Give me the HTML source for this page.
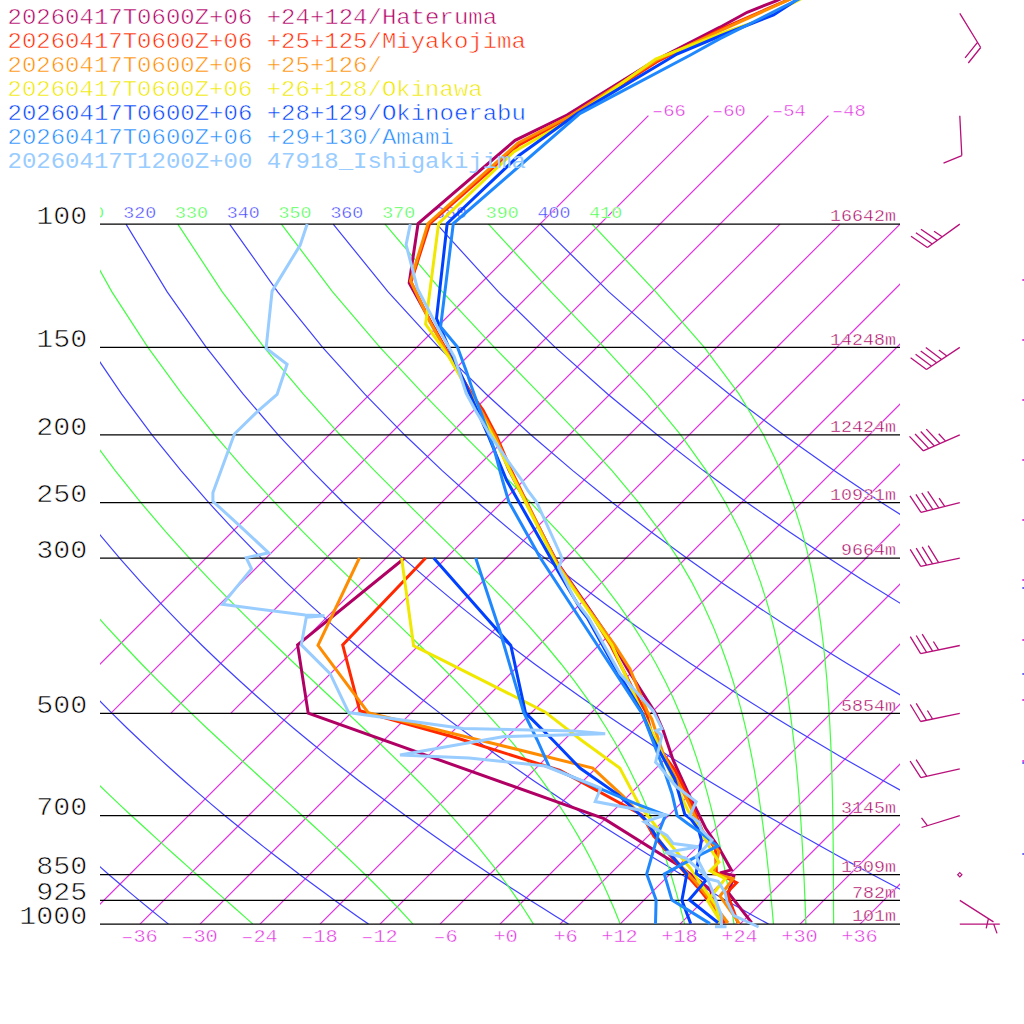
<!DOCTYPE html><html><head><meta charset="utf-8"><style>html,body{margin:0;padding:0;background:#fff;width:1024px;height:1024px;overflow:hidden}svg{display:block}</style></head><body><svg width="1024" height="1024" viewBox="0 0 1024 1024" font-family="Liberation Mono">
<rect width="1024" height="1024" fill="#fff"/>
<defs><clipPath id="tc"><rect x="100" y="-50" width="800" height="1000"/></clipPath><clipPath id="pc"><rect x="100" y="0" width="800" height="924.1"/></clipPath></defs>
<g clip-path="url(#pc)">
<path d="M50.7 713.4 L648.4 115.7" fill="none" stroke="#e030e0" stroke-width="1.15"/>
<path d="M110.7 713.4 L708.4 115.7" fill="none" stroke="#e030e0" stroke-width="1.15"/>
<path d="M170.7 713.4 L768.4 115.7" fill="none" stroke="#e030e0" stroke-width="1.15"/>
<path d="M230.7 713.4 L828.4 115.7" fill="none" stroke="#e030e0" stroke-width="1.15"/>
<path d="M80 924.1 L780 224.1" fill="none" stroke="#e030e0" stroke-width="1.15"/>
<path d="M140 924.1 L840 224.1" fill="none" stroke="#e030e0" stroke-width="1.15"/>
<path d="M200 924.1 L900 224.1" fill="none" stroke="#e030e0" stroke-width="1.15"/>
<path d="M260 924.1 L960 224.1" fill="none" stroke="#e030e0" stroke-width="1.15"/>
<path d="M320 924.1 L1020 224.1" fill="none" stroke="#e030e0" stroke-width="1.15"/>
<path d="M380 924.1 L1080 224.1" fill="none" stroke="#e030e0" stroke-width="1.15"/>
<path d="M440 924.1 L1140 224.1" fill="none" stroke="#e030e0" stroke-width="1.15"/>
<path d="M500 924.1 L1200 224.1" fill="none" stroke="#e030e0" stroke-width="1.15"/>
<path d="M560 924.1 L1260 224.1" fill="none" stroke="#e030e0" stroke-width="1.15"/>
<path d="M620 924.1 L1320 224.1" fill="none" stroke="#e030e0" stroke-width="1.15"/>
<path d="M680 924.1 L1380 224.1" fill="none" stroke="#e030e0" stroke-width="1.15"/>
<path d="M740 924.1 L1440 224.1" fill="none" stroke="#e030e0" stroke-width="1.15"/>
<path d="M800 924.1 L1500 224.1" fill="none" stroke="#e030e0" stroke-width="1.15"/>
<path d="M860 924.1 L1560 224.1" fill="none" stroke="#e030e0" stroke-width="1.15"/>
<path d="M920 924.1 L1620 224.1" fill="none" stroke="#e030e0" stroke-width="1.15"/>
<path d="M980 924.1 L1680 224.1" fill="none" stroke="#e030e0" stroke-width="1.15"/>
<path d="M1040 924.1 L1740 224.1" fill="none" stroke="#e030e0" stroke-width="1.15"/>
<path d="M1100 924.1 L1800 224.1" fill="none" stroke="#e030e0" stroke-width="1.15"/>
<path d="M-288.4 224.1 L-274.4 291.9 L-259 347.4 L-243 394.2 L-226.9 434.8 L-210.8 470.6 L-195 502.7 L-179.3 531.6 L-164 558.1 L-149 582.4 L-134.3 604.9 L-119.9 625.9 L-105.7 645.5 L-91.9 664 L-78.3 681.3 L-65 697.8 L-52 713.4 L-39.2 728.2 L-26.6 742.3 L-14.2 755.9 L-2.1 768.8 L9.8 781.2 L21.5 793.1 L33.1 804.6 L44.4 815.7 L55.6 826.3 L66.6 836.6 L77.4 846.6 L88.1 856.3 L98.6 865.6 L109 874.7 L119.3 883.5 L129.4 892.1 L139.3 900.4 L149.2 908.5 L158.9 916.4 L168.5 924.1" fill="none" stroke="#4040ff" stroke-width="1.2"/>
<path d="M-184.8 224.1 L-164 291.9 L-142.7 347.4 L-121.4 394.2 L-100.6 434.8 L-80.2 470.6 L-60.4 502.7 L-41 531.6 L-22.2 558.1 L-3.9 582.4 L13.9 604.9 L31.3 625.9 L48.2 645.5 L64.7 664 L80.9 681.3 L96.7 697.8 L112.1 713.4 L127.2 728.2 L142 742.3 L156.5 755.9 L170.7 768.8 L184.7 781.2 L198.4 793.1 L211.8 804.6 L225 815.7 L238 826.3 L250.8 836.6 L263.4 846.6 L275.8 856.3 L287.9 865.6 L299.9 874.7 L311.8 883.5 L323.4 892.1 L334.9 900.4 L346.3 908.5 L357.5 916.4 L368.5 924.1" fill="none" stroke="#4040ff" stroke-width="1.2"/>
<path d="M-81.2 224.1 L-53.6 291.9 L-26.4 347.4 L0.1 394.2 L25.7 434.8 L50.4 470.6 L74.2 502.7 L97.3 531.6 L119.6 558.1 L141.1 582.4 L162.1 604.9 L182.4 625.9 L202.1 645.5 L221.4 664 L240.1 681.3 L258.4 697.8 L276.2 713.4 L293.6 728.2 L310.6 742.3 L327.3 755.9 L343.6 768.8 L359.5 781.2 L375.2 793.1 L390.6 804.6 L405.7 815.7 L420.5 826.3 L435 836.6 L449.3 846.6 L463.4 856.3 L477.2 865.6 L490.9 874.7 L504.3 883.5 L517.5 892.1 L530.5 900.4 L543.4 908.5 L556 916.4 L568.5 924.1" fill="none" stroke="#4040ff" stroke-width="1.2"/>
<path d="M22.4 224.1 L56.8 291.9 L90 347.4 L121.7 394.2 L152 434.8 L181 470.6 L208.8 502.7 L235.6 531.6 L261.3 558.1 L286.2 582.4 L310.2 604.9 L333.5 625.9 L356.1 645.5 L378 664 L399.3 681.3 L420 697.8 L440.2 713.4 L460 728.2 L479.2 742.3 L498 755.9 L516.4 768.8 L534.4 781.2 L552.1 793.1 L569.3 804.6 L586.3 815.7 L602.9 826.3 L619.2 836.6 L635.3 846.6 L651 856.3 L666.5 865.6 L681.8 874.7 L696.8 883.5 L711.6 892.1 L726.1 900.4 L740.5 908.5 L754.6 916.4 L768.5 924.1" fill="none" stroke="#4040ff" stroke-width="1.2"/>
<path d="M126 224.1 L167.2 291.9 L206.3 347.4 L243.2 394.2 L278.2 434.8 L311.6 470.6 L343.4 502.7 L373.9 531.6 L403.1 558.1 L431.3 582.4 L458.4 604.9 L484.6 625.9 L510 645.5 L534.6 664 L558.5 681.3 L581.7 697.8 L604.3 713.4 L626.3 728.2 L647.8 742.3 L668.8 755.9 L689.3 768.8 L709.3 781.2 L728.9 793.1 L748.1 804.6 L766.9 815.7 L785.4 826.3 L803.5 836.6 L821.2 846.6 L838.7 856.3 L855.9 865.6 L872.7 874.7 L889.3 883.5 L905.6 892.1 L921.7 900.4 L937.5 908.5 L953.1 916.4 L968.5 924.1" fill="none" stroke="#4040ff" stroke-width="1.2"/>
<path d="M229.6 224.1 L277.7 291.9 L322.6 347.4 L364.8 394.2 L404.5 434.8 L442.2 470.6 L478 502.7 L512.2 531.6 L544.9 558.1 L576.4 582.4 L606.6 604.9 L635.8 625.9 L664 645.5 L691.2 664 L717.7 681.3 L743.4 697.8 L768.4 713.4 L792.7 728.2 L816.4 742.3 L839.5 755.9 L862.1 768.8 L884.2 781.2 L905.7 793.1 L926.8 804.6 L947.5 815.7 L967.8 826.3 L987.7 836.6 L1007.2 846.6 L1026.3 856.3 L1045.2 865.6 L1063.6 874.7 L1081.8 883.5 L1099.7 892.1 L1117.3 900.4 L1134.6 908.5 L1151.7 916.4 L1168.5 924.1" fill="none" stroke="#4040ff" stroke-width="1.2"/>
<path d="M333.2 224.1 L388.1 291.9 L438.9 347.4 L486.3 394.2 L530.8 434.8 L572.8 470.6 L612.6 502.7 L650.5 531.6 L686.7 558.1 L721.4 582.4 L754.8 604.9 L786.9 625.9 L817.9 645.5 L847.9 664 L876.9 681.3 L905.1 697.8 L932.5 713.4 L959.1 728.2 L985 742.3 L1010.3 755.9 L1034.9 768.8 L1059 781.2 L1082.6 793.1 L1105.6 804.6 L1128.2 815.7 L1150.2 826.3 L1171.9 836.6 L1193.1 846.6 L1214 856.3 L1234.5 865.6 L1254.6 874.7 L1274.3 883.5 L1293.8 892.1 L1312.9 900.4 L1331.7 908.5 L1350.3 916.4 L1368.5 924.1" fill="none" stroke="#4040ff" stroke-width="1.2"/>
<path d="M436.8 224.1 L498.5 291.9 L555.2 347.4 L607.9 394.2 L657.1 434.8 L703.4 470.6 L747.2 502.7 L788.8 531.6 L828.5 558.1 L866.5 582.4 L902.9 604.9 L938 625.9 L971.8 645.5 L1004.5 664 L1036.1 681.3 L1066.8 697.8 L1096.5 713.4 L1125.4 728.2 L1153.6 742.3 L1181 755.9 L1207.8 768.8 L1233.9 781.2 L1259.4 793.1 L1284.4 804.6 L1308.8 815.7 L1332.7 826.3 L1356.1 836.6 L1379.1 846.6 L1401.6 856.3 L1423.8 865.6 L1445.5 874.7 L1466.9 883.5 L1487.8 892.1 L1508.5 900.4 L1528.8 908.5 L1548.8 916.4 L1568.5 924.1" fill="none" stroke="#4040ff" stroke-width="1.2"/>
<path d="M540.3 224.1 L608.9 291.9 L671.5 347.4 L729.4 394.2 L783.4 434.8 L834 470.6 L881.8 502.7 L927.1 531.6 L970.3 558.1 L1011.6 582.4 L1051.1 604.9 L1089.1 625.9 L1125.8 645.5 L1161.1 664 L1195.3 681.3 L1228.4 697.8 L1260.6 713.4 L1291.8 728.2 L1322.2 742.3 L1351.8 755.9 L1380.6 768.8 L1408.8 781.2 L1436.2 793.1 L1463.1 804.6 L1489.4 815.7 L1515.1 826.3 L1540.3 836.6 L1565 846.6 L1589.3 856.3 L1613.1 865.6 L1636.4 874.7 L1659.4 883.5 L1681.9 892.1 L1704.1 900.4 L1725.9 908.5 L1747.4 916.4 L1768.5 924.1" fill="none" stroke="#4040ff" stroke-width="1.2"/>
<path d="M-236.6 224.1 L-219.3 291.9 L-201 347.4 L-182.5 394.2 L-164 434.8 L-145.9 470.6 L-128.1 502.7 L-110.7 531.6 L-93.7 558.1 L-77.1 582.4 L-60.9 604.9 L-45 625.9 L-29.6 645.5 L-14.4 664 L0.3 681.3 L14.8 697.8 L28.9 713.4 L42.7 728.2 L56.3 742.3 L69.5 755.9 L82.5 768.8 L95.1 781.2 L107.5 793.1 L119.6 804.6 L131.5 815.7 L143.1 826.3 L154.4 836.6 L165.4 846.6 L176.2 856.3 L186.7 865.6 L196.9 874.7 L206.9 883.5 L216.6 892.1 L226.1 900.4 L235.3 908.5 L244.2 916.4 L252.9 924.1" fill="none" stroke="#40ff40" stroke-width="1.2"/>
<path d="M-133 224.1 L-108.9 291.9 L-84.7 347.4 L-60.9 394.2 L-37.8 434.8 L-15.3 470.6 L6.4 502.7 L27.6 531.6 L48 558.1 L67.9 582.4 L87.1 604.9 L105.8 625.9 L124 645.5 L141.6 664 L158.7 681.3 L175.3 697.8 L191.4 713.4 L207 728.2 L222.1 742.3 L236.8 755.9 L250.9 768.8 L264.5 781.2 L277.6 793.1 L290.3 804.6 L302.4 815.7 L314 826.3 L325.2 836.6 L335.9 846.6 L346.1 856.3 L355.9 865.6 L365.3 874.7 L374.2 883.5 L382.7 892.1 L390.8 900.4 L398.6 908.5 L405.9 916.4 L413 924.1" fill="none" stroke="#40ff40" stroke-width="1.2"/>
<path d="M-29.4 224.1 L1.5 291.9 L31.6 347.4 L60.6 394.2 L88.4 434.8 L115.2 470.6 L140.9 502.7 L165.6 531.6 L189.4 558.1 L212.3 582.4 L234.3 604.9 L255.4 625.9 L275.6 645.5 L295 664 L313.5 681.3 L331.1 697.8 L347.8 713.4 L363.6 728.2 L378.5 742.3 L392.6 755.9 L405.8 768.8 L418.3 781.2 L429.9 793.1 L440.8 804.6 L451 815.7 L460.5 826.3 L469.4 836.6 L477.8 846.6 L485.6 856.3 L493 865.6 L499.8 874.7 L506.3 883.5 L512.4 892.1 L518.1 900.4 L523.5 908.5 L528.6 916.4 L533.4 924.1" fill="none" stroke="#40ff40" stroke-width="1.2"/>
<path d="M74.2 224.1 L111.9 291.9 L147.9 347.4 L182.1 394.2 L214.6 434.8 L245.5 470.6 L274.9 502.7 L302.8 531.6 L329.2 558.1 L354.2 582.4 L377.6 604.9 L399.6 625.9 L419.9 645.5 L438.8 664 L456.1 681.3 L472.1 697.8 L486.6 713.4 L499.9 728.2 L512.1 742.3 L523.2 755.9 L533.3 768.8 L542.5 781.2 L551 793.1 L558.7 804.6 L565.9 815.7 L572.4 826.3 L578.5 836.6 L584.1 846.6 L589.3 856.3 L594.1 865.6 L598.7 874.7 L602.9 883.5 L606.8 892.1 L610.5 900.4 L614 908.5 L617.2 916.4 L620.3 924.1" fill="none" stroke="#40ff40" stroke-width="1.2"/>
<path d="M177.8 224.1 L222.3 291.9 L264.1 347.4 L303.4 394.2 L340.1 434.8 L374.5 470.6 L406.5 502.7 L436 531.6 L463 558.1 L487.4 582.4 L509.2 604.9 L528.7 625.9 L545.9 645.5 L561.2 664 L574.7 681.3 L586.6 697.8 L597.1 713.4 L606.5 728.2 L614.9 742.3 L622.4 755.9 L629.1 768.8 L635.2 781.2 L640.7 793.1 L645.7 804.6 L650.3 815.7 L654.4 826.3 L658.3 836.6 L661.8 846.6 L665.1 856.3 L668.1 865.6 L671 874.7 L673.6 883.5 L676.1 892.1 L678.4 900.4 L680.6 908.5 L682.6 916.4 L684.6 924.1" fill="none" stroke="#40ff40" stroke-width="1.2"/>
<path d="M281.4 224.1 L332.6 291.9 L380 347.4 L423.6 394.2 L463.3 434.8 L499.1 470.6 L530.7 502.7 L558.1 531.6 L581.7 558.1 L601.8 582.4 L618.8 604.9 L633.3 625.9 L645.6 645.5 L656.1 664 L665.2 681.3 L673.1 697.8 L679.9 713.4 L685.9 728.2 L691.2 742.3 L695.9 755.9 L700.1 768.8 L703.9 781.2 L707.3 793.1 L710.3 804.6 L713.1 815.7 L715.7 826.3 L718 836.6 L720.2 846.6 L722.2 856.3 L724 865.6 L725.7 874.7 L727.3 883.5 L728.8 892.1 L730.2 900.4 L731.6 908.5 L732.8 916.4 L734 924.1" fill="none" stroke="#40ff40" stroke-width="1.2"/>
<path d="M385 224.1 L442.5 291.9 L494.3 347.4 L540 394.2 L579.3 434.8 L612 470.6 L638.7 502.7 L660.3 531.6 L677.8 558.1 L691.9 582.4 L703.4 604.9 L712.9 625.9 L720.8 645.5 L727.5 664 L733.1 681.3 L737.9 697.8 L742.1 713.4 L745.7 728.2 L748.8 742.3 L751.6 755.9 L754.1 768.8 L756.3 781.2 L758.3 793.1 L760 804.6 L761.6 815.7 L763.1 826.3 L764.4 836.6 L765.7 846.6 L766.8 856.3 L767.8 865.6 L768.8 874.7 L769.7 883.5 L770.5 892.1 L771.3 900.4 L772.1 908.5 L772.8 916.4 L773.4 924.1" fill="none" stroke="#40ff40" stroke-width="1.2"/>
<path d="M488.5 224.1 L551.1 291.9 L604.2 347.4 L647.2 394.2 L680.7 434.8 L706.2 470.6 L725.5 502.7 L740.2 531.6 L751.6 558.1 L760.6 582.4 L767.7 604.9 L773.4 625.9 L778.1 645.5 L782 664 L785.2 681.3 L788 697.8 L790.3 713.4 L792.2 728.2 L793.9 742.3 L795.4 755.9 L796.7 768.8 L797.8 781.2 L798.8 793.1 L799.7 804.6 L800.5 815.7 L801.2 826.3 L801.8 836.6 L802.4 846.6 L802.9 856.3 L803.4 865.6 L803.9 874.7 L804.3 883.5 L804.6 892.1 L805 900.4 L805.3 908.5 L805.6 916.4 L805.9 924.1" fill="none" stroke="#40ff40" stroke-width="1.2"/>
<path d="M592.1 224.1 L655.8 291.9 L704.3 347.4 L739.1 394.2 L763.5 434.8 L780.7 470.6 L793 502.7 L802.1 531.6 L808.9 558.1 L814 582.4 L818 604.9 L821.1 625.9 L823.5 645.5 L825.4 664 L827 681.3 L828.2 697.8 L829.2 713.4 L830 728.2 L830.7 742.3 L831.3 755.9 L831.7 768.8 L832.1 781.2 L832.4 793.1 L832.6 804.6 L832.8 815.7 L833 826.3 L833.1 836.6 L833.2 846.6 L833.3 856.3 L833.3 865.6 L833.4 874.7 L833.4 883.5 L833.5 892.1 L833.5 900.4 L833.5 908.5 L833.6 916.4 L833.6 924.1" fill="none" stroke="#40ff40" stroke-width="1.2"/>
<text x="19.6" y="217.9" font-size="16.69" textLength="32.94" lengthAdjust="spacingAndGlyphs" fill="#4040ff" stroke="#fff" stroke-width="0.41">300</text>
<text x="71.4" y="217.9" font-size="16.69" textLength="32.94" lengthAdjust="spacingAndGlyphs" fill="#40ff40" stroke="#fff" stroke-width="0.41">310</text>
<text x="123.2" y="217.9" font-size="16.69" textLength="32.94" lengthAdjust="spacingAndGlyphs" fill="#4040ff" stroke="#fff" stroke-width="0.41">320</text>
<text x="175" y="217.9" font-size="16.69" textLength="32.94" lengthAdjust="spacingAndGlyphs" fill="#40ff40" stroke="#fff" stroke-width="0.41">330</text>
<text x="226.8" y="217.9" font-size="16.69" textLength="32.94" lengthAdjust="spacingAndGlyphs" fill="#4040ff" stroke="#fff" stroke-width="0.41">340</text>
<text x="278.6" y="217.9" font-size="16.69" textLength="32.94" lengthAdjust="spacingAndGlyphs" fill="#40ff40" stroke="#fff" stroke-width="0.41">350</text>
<text x="330.4" y="217.9" font-size="16.69" textLength="32.94" lengthAdjust="spacingAndGlyphs" fill="#4040ff" stroke="#fff" stroke-width="0.41">360</text>
<text x="382.2" y="217.9" font-size="16.69" textLength="32.94" lengthAdjust="spacingAndGlyphs" fill="#40ff40" stroke="#fff" stroke-width="0.41">370</text>
<text x="434" y="217.9" font-size="16.69" textLength="32.94" lengthAdjust="spacingAndGlyphs" fill="#4040ff" stroke="#fff" stroke-width="0.41">380</text>
<text x="485.7" y="217.9" font-size="16.69" textLength="32.94" lengthAdjust="spacingAndGlyphs" fill="#40ff40" stroke="#fff" stroke-width="0.41">390</text>
<text x="537.5" y="217.9" font-size="16.69" textLength="32.94" lengthAdjust="spacingAndGlyphs" fill="#4040ff" stroke="#fff" stroke-width="0.41">400</text>
<text x="589.3" y="217.9" font-size="16.69" textLength="32.94" lengthAdjust="spacingAndGlyphs" fill="#40ff40" stroke="#fff" stroke-width="0.41">410</text>
</g>
<text x="652" y="115.9" font-size="17.15" textLength="33.84" lengthAdjust="spacingAndGlyphs" fill="#e030e0" stroke="#fff" stroke-width="0.42">–66</text>
<text x="712" y="115.9" font-size="17.15" textLength="33.84" lengthAdjust="spacingAndGlyphs" fill="#e030e0" stroke="#fff" stroke-width="0.42">–60</text>
<text x="772" y="115.9" font-size="17.15" textLength="33.84" lengthAdjust="spacingAndGlyphs" fill="#e030e0" stroke="#fff" stroke-width="0.42">–54</text>
<text x="832" y="115.9" font-size="17.15" textLength="33.84" lengthAdjust="spacingAndGlyphs" fill="#e030e0" stroke="#fff" stroke-width="0.42">–48</text>
<line x1="100" x2="900" y1="224.10" y2="224.10" stroke="#000" stroke-width="1.3"/>
<text x="87.3" y="223.8" font-size="25.81" textLength="50.94" lengthAdjust="spacingAndGlyphs" fill="#000" stroke="#fff" stroke-width="0.64" text-anchor="end">100</text>
<line x1="100" x2="900" y1="347.36" y2="347.36" stroke="#000" stroke-width="1.3"/>
<text x="87.3" y="347.1" font-size="25.81" textLength="50.94" lengthAdjust="spacingAndGlyphs" fill="#000" stroke="#fff" stroke-width="0.64" text-anchor="end">150</text>
<line x1="100" x2="900" y1="434.82" y2="434.82" stroke="#000" stroke-width="1.3"/>
<text x="87.3" y="434.5" font-size="25.81" textLength="50.94" lengthAdjust="spacingAndGlyphs" fill="#000" stroke="#fff" stroke-width="0.64" text-anchor="end">200</text>
<line x1="100" x2="900" y1="502.65" y2="502.65" stroke="#000" stroke-width="1.3"/>
<text x="87.3" y="502.4" font-size="25.81" textLength="50.94" lengthAdjust="spacingAndGlyphs" fill="#000" stroke="#fff" stroke-width="0.64" text-anchor="end">250</text>
<line x1="100" x2="900" y1="558.08" y2="558.08" stroke="#000" stroke-width="1.3"/>
<text x="87.3" y="557.8" font-size="25.81" textLength="50.94" lengthAdjust="spacingAndGlyphs" fill="#000" stroke="#fff" stroke-width="0.64" text-anchor="end">300</text>
<line x1="100" x2="900" y1="713.37" y2="713.37" stroke="#000" stroke-width="1.3"/>
<text x="87.3" y="713.1" font-size="25.81" textLength="50.94" lengthAdjust="spacingAndGlyphs" fill="#000" stroke="#fff" stroke-width="0.64" text-anchor="end">500</text>
<line x1="100" x2="900" y1="815.66" y2="815.66" stroke="#000" stroke-width="1.3"/>
<text x="87.3" y="815.4" font-size="25.81" textLength="50.94" lengthAdjust="spacingAndGlyphs" fill="#000" stroke="#fff" stroke-width="0.64" text-anchor="end">700</text>
<line x1="100" x2="900" y1="874.68" y2="874.68" stroke="#000" stroke-width="1.3"/>
<text x="87.3" y="874.4" font-size="25.81" textLength="50.94" lengthAdjust="spacingAndGlyphs" fill="#000" stroke="#fff" stroke-width="0.64" text-anchor="end">850</text>
<line x1="100" x2="900" y1="900.39" y2="900.39" stroke="#000" stroke-width="1.3"/>
<text x="87.3" y="900.1" font-size="25.81" textLength="50.94" lengthAdjust="spacingAndGlyphs" fill="#000" stroke="#fff" stroke-width="0.64" text-anchor="end">925</text>
<line x1="100" x2="900" y1="924.09" y2="924.09" stroke="#000" stroke-width="1.3"/>
<text x="87.3" y="923.8" font-size="25.81" textLength="67.92" lengthAdjust="spacingAndGlyphs" fill="#000" stroke="#fff" stroke-width="0.64" text-anchor="end">1000</text>
<text x="896" y="221.4" font-size="16.69" textLength="65.88" lengthAdjust="spacingAndGlyphs" fill="#a8005e" stroke="#fff" stroke-width="0.41" text-anchor="end">16642m</text>
<text x="896" y="344.7" font-size="16.69" textLength="65.88" lengthAdjust="spacingAndGlyphs" fill="#a8005e" stroke="#fff" stroke-width="0.41" text-anchor="end">14248m</text>
<text x="896" y="432.1" font-size="16.69" textLength="65.88" lengthAdjust="spacingAndGlyphs" fill="#a8005e" stroke="#fff" stroke-width="0.41" text-anchor="end">12424m</text>
<text x="896" y="500" font-size="16.69" textLength="65.88" lengthAdjust="spacingAndGlyphs" fill="#a8005e" stroke="#fff" stroke-width="0.41" text-anchor="end">10931m</text>
<text x="896" y="555.4" font-size="16.69" textLength="54.90" lengthAdjust="spacingAndGlyphs" fill="#a8005e" stroke="#fff" stroke-width="0.41" text-anchor="end">9664m</text>
<text x="896" y="710.7" font-size="16.69" textLength="54.90" lengthAdjust="spacingAndGlyphs" fill="#a8005e" stroke="#fff" stroke-width="0.41" text-anchor="end">5854m</text>
<text x="896" y="813" font-size="16.69" textLength="54.90" lengthAdjust="spacingAndGlyphs" fill="#a8005e" stroke="#fff" stroke-width="0.41" text-anchor="end">3145m</text>
<text x="896" y="872" font-size="16.69" textLength="54.90" lengthAdjust="spacingAndGlyphs" fill="#a8005e" stroke="#fff" stroke-width="0.41" text-anchor="end">1509m</text>
<text x="896" y="897.7" font-size="16.69" textLength="43.92" lengthAdjust="spacingAndGlyphs" fill="#a8005e" stroke="#fff" stroke-width="0.41" text-anchor="end">782m</text>
<text x="896" y="921.4" font-size="16.69" textLength="43.92" lengthAdjust="spacingAndGlyphs" fill="#a8005e" stroke="#fff" stroke-width="0.41" text-anchor="end">101m</text>
<text x="157.8" y="942.3" font-size="18.51" textLength="36.54" lengthAdjust="spacingAndGlyphs" fill="#e030e0" stroke="#fff" stroke-width="0.46" text-anchor="end">–36</text>
<text x="217.8" y="942.3" font-size="18.51" textLength="36.54" lengthAdjust="spacingAndGlyphs" fill="#e030e0" stroke="#fff" stroke-width="0.46" text-anchor="end">–30</text>
<text x="277.8" y="942.3" font-size="18.51" textLength="36.54" lengthAdjust="spacingAndGlyphs" fill="#e030e0" stroke="#fff" stroke-width="0.46" text-anchor="end">–24</text>
<text x="337.8" y="942.3" font-size="18.51" textLength="36.54" lengthAdjust="spacingAndGlyphs" fill="#e030e0" stroke="#fff" stroke-width="0.46" text-anchor="end">–18</text>
<text x="397.8" y="942.3" font-size="18.51" textLength="36.54" lengthAdjust="spacingAndGlyphs" fill="#e030e0" stroke="#fff" stroke-width="0.46" text-anchor="end">–12</text>
<text x="457.8" y="942.3" font-size="18.51" textLength="24.36" lengthAdjust="spacingAndGlyphs" fill="#e030e0" stroke="#fff" stroke-width="0.46" text-anchor="end">–6</text>
<text x="517.8" y="942.3" font-size="18.51" textLength="24.36" lengthAdjust="spacingAndGlyphs" fill="#e030e0" stroke="#fff" stroke-width="0.46" text-anchor="end">+0</text>
<text x="577.8" y="942.3" font-size="18.51" textLength="24.36" lengthAdjust="spacingAndGlyphs" fill="#e030e0" stroke="#fff" stroke-width="0.46" text-anchor="end">+6</text>
<text x="637.8" y="942.3" font-size="18.51" textLength="36.54" lengthAdjust="spacingAndGlyphs" fill="#e030e0" stroke="#fff" stroke-width="0.46" text-anchor="end">+12</text>
<text x="697.8" y="942.3" font-size="18.51" textLength="36.54" lengthAdjust="spacingAndGlyphs" fill="#e030e0" stroke="#fff" stroke-width="0.46" text-anchor="end">+18</text>
<text x="757.8" y="942.3" font-size="18.51" textLength="36.54" lengthAdjust="spacingAndGlyphs" fill="#e030e0" stroke="#fff" stroke-width="0.46" text-anchor="end">+24</text>
<text x="817.8" y="942.3" font-size="18.51" textLength="36.54" lengthAdjust="spacingAndGlyphs" fill="#e030e0" stroke="#fff" stroke-width="0.46" text-anchor="end">+30</text>
<text x="877.8" y="942.3" font-size="18.51" textLength="36.54" lengthAdjust="spacingAndGlyphs" fill="#e030e0" stroke="#fff" stroke-width="0.46" text-anchor="end">+36</text>
<g clip-path="url(#tc)" stroke-linejoin="miter" stroke-miterlimit="4">
<path d="M800 -10 L776.2 0.9 L747.2 12.3 L720 27.2 L655 60.5 L567 115 L515.1 140.3 L418.1 223.5 L409.2 282.9 L429.7 320 L450 356.8 L470 392 L484 418 L497 441 L509 470 L557 562 L590 610 L614 645 L627 668.3 L655.7 713.4 L663.2 730.5 L673 759.7 L687.5 791.4 L705.5 828 L719 848 L731.3 869.9 L719.9 873 L734 875.5 L728.5 893 L751.6 922.7" fill="none" stroke="#b00064" stroke-width="3"/>
<path d="M404.7 558 L297.6 644.9 L308.2 713.2 L604 818.7 L677.2 864.5 L699 880.5 L710 889.3 L716 905 L724 923" fill="none" stroke="#b00064" stroke-width="3"/>
<path d="M812 -10 L790 -1 L720 29.5 L656.5 62 L571 117 L519 145 L429.5 224 L411 282 L430 321 L450 357 L471 393 L483 410 L496 435 L511 470 L557 564 L589 610 L611 646 L635.4 694 L646 712 L651 731 L660 750 L675 770 L690 800 L702 830 L715.5 848.8 L716.4 872.5 L736.6 882.7 L727 892.8 L738 923" fill="none" stroke="#ff2800" stroke-width="3"/>
<path d="M425.7 558 L342.7 644.9 L359.8 710.8 L457 738 L560 770.5 L642 815 L653.8 836.1 L686.6 874.7 L700 890 L712 905 L725 923" fill="none" stroke="#ff2800" stroke-width="3"/>
<path d="M810 -10 L788.5 0 L720 30.8 L657 60 L570 116 L518 143 L428 223.5 L410.5 281 L430 322 L449.5 357 L470 393 L483 414 L496 438 L510 470 L557 563 L589 610 L614.7 645.1 L630 669 L647.5 712 L651.7 719 L663 753.3 L688 801.6 L694 814.3 L701.5 830 L719 851.4 L713.7 873.4 L733.1 878.7 L720 896 L739.3 923.5" fill="none" stroke="#ff8c00" stroke-width="3"/>
<path d="M359.4 558 L318 645.4 L368.2 712.6 L592.8 768.1 L623.3 796.3 L644.4 819.7 L665 848 L698 885 L712 902 L728 923" fill="none" stroke="#ff8c00" stroke-width="3"/>
<path d="M815 -9 L797 1 L753.4 22.5 L720 34 L655.6 59 L573 118 L514 151.7 L438.6 223.5 L425.6 324 L448.8 356.8 L457.3 371.4 L470 395 L484 420 L497 444 L509.4 470 L556.5 564.3 L588 610 L611.9 645.1 L642 712 L656 740 L668 768 L686 806.7 L688.6 811.7 L700 830 L711 849.7 L719 862 L710.2 870.8 L725.2 878.7 L707.6 900.7 L720.8 922" fill="none" stroke="#f0e800" stroke-width="3"/>
<path d="M401.6 558 L413.6 645.8 L440 658.8 L545 711.9 L581.1 740 L619.8 768.1 L639.7 805.6 L665.5 838.4 L690 868 L705 890 L716 905 L720 923" fill="none" stroke="#f0e800" stroke-width="3"/>
<path d="M812 -10 L796.5 0 L773.6 14.9 L720 36 L677 54 L577.3 113.6 L518.9 155.5 L447.2 223.5 L436.5 318.5 L452 355 L469.6 393.3 L488 435 L506.5 480 L556.5 568.4 L581.1 610 L587.3 617.8 L613 664 L642 712.5 L652 737 L660.6 753.3 L674.6 778.7 L684.8 814.3 L691.1 819.4 L698.7 830 L701.4 840 L696.2 873.4 L705.8 880.5 L689.2 899.8 L718.1 922.7" fill="none" stroke="#0040ff" stroke-width="3"/>
<path d="M433.7 558 L510.8 645.5 L525.5 712.9 L552.8 740 L579.9 768.1 L618.6 795.1 L645.5 819.7 L657.3 838.4 L686.8 874 L681.9 900.3 L690.7 923.8" fill="none" stroke="#0040ff" stroke-width="3"/>
<path d="M815 -9 L797 0 L753.4 22 L720 38.7 L690 55.2 L579.8 113.6 L453.3 223.5 L440.6 326.7 L457.3 346.8 L466.9 372.8 L471 385.1 L477.8 404.2 L487.4 430.2 L494.2 449.3 L502.4 480 L508.7 501.4 L540.1 557.5 L574.3 610 L642 713.4 L645.4 721.6 L655.6 748.3 L664.4 771.1 L672.1 794 L677.1 815.6 L687.3 823.2 L701.1 832.9 L717.6 846.2 L693.5 858.2 L664.3 874.1 L671.9 900.1 L710 923.6" fill="none" stroke="#2088ff" stroke-width="3"/>
<path d="M475.7 558 L500.1 631.8 L523.5 711.9 L537.2 740 L549.5 767.4 L560 771.6 L635 803.3 L665.5 815 L658.4 833.3 L646.7 873.9 L656.1 900 L655.5 923.8" fill="none" stroke="#2088ff" stroke-width="3"/>
<path d="M410.3 224.2 L406.1 244.6 L417.4 288.4 L437.9 328.1 L454.3 356.8 L466.2 393.3 L475.1 409.7 L488.8 432.9 L506.5 458.9 L521.6 480 L527.8 490.5 L536 501.4 L538.8 506.9 L560.6 554.7 L562 558.8 L558.6 567.7 L564.7 579.3 L575 600 L588.7 617.8 L620.1 673.8 L653 710.7 L661.9 728.6 L656.2 730.5 L661.9 735.6 L655.6 762.2 L658.1 764.8 L675.9 786.3 L696.2 801.6 L689.8 815.6 L698.7 821.9 L701.3 830 L712 840 L696.2 856.7 L707.6 878.7 L718.1 881.3 L725.2 892.8 L727 901.6 L734 915.6 L758.6 927" fill="none" stroke="#99ccff" stroke-width="3"/>
<path d="M307.2 224 L300.2 245 L272.1 291.1 L266.1 348.2 L287.1 364.2 L277.1 394.3 L259 410 L234.4 434 L212.9 492.7 L212.9 501.3 L237.6 523.8 L268.7 552.8 L246.2 557.7 L251.5 568.9 L222.5 604.3 L305.2 615.1 L324.5 615.7 L306.3 617.2 L301.3 644.9 L330.1 673.6 L348.7 712.6 L463 728.4 L574 731 L605.2 733.7 L504 736.6 L400 755.1 L469 758 L545 766 L600.8 788 L595.2 801.5 L665.5 815 L644.4 822 L666.8 835.4 L673.2 843.6 L698.6 846.8 L665.5 852.5 L685.9 858.2 L706.2 876 L712.5 891.2 L721.4 915.4 L721.4 926.8 L715 926.8 L726.5 926.8" fill="none" stroke="#99ccff" stroke-width="3"/>
</g>
<path d="M959.8 13.4L980.7 47.5 M980.7 47.5L968.3 63.0 M977.5 42.3L965.1 57.8 M959.8 115.7L961.8 155.6 M961.8 155.6L943.5 163.2 M959.8 224.1L927.4 247.5 M927.4 247.5L911.0 236.3 M932.3 244.0L915.9 232.7 M937.3 240.4L920.9 229.2 M942.2 236.8L934.0 231.2 M959.8 347.4L926.5 369.5 M926.5 369.5L910.6 357.7 M931.6 366.2L915.6 354.3 M936.7 362.8L920.7 350.9 M941.7 359.4L925.8 347.5 M946.8 356.0L938.8 350.1 M959.8 434.8L923.2 450.8 M923.2 450.8L909.5 436.4 M928.7 448.4L915.1 434.0 M934.3 446.0L920.7 431.5 M939.9 443.5L926.3 429.1 M945.5 441.1L938.7 433.8 M959.8 502.7L921.0 512.4 M921.0 512.4L910.0 495.9 M926.9 510.9L915.9 494.4 M932.8 509.4L921.8 492.9 M938.8 507.9L927.7 491.4 M944.7 506.4L939.1 498.2 M959.8 558.1L920.7 566.3 M920.7 566.3L910.2 549.4 M926.6 565.1L916.2 548.1 M932.6 563.8L922.2 546.9 M938.6 562.6L928.2 545.6 M959.8 645.5L920.6 653.7 M920.6 653.7L910.3 636.7 M926.6 652.4L916.2 635.5 M932.6 651.2L922.2 634.2 M938.6 649.9L933.4 641.5 M959.8 713.4L920.6 721.5 M920.6 721.5L910.3 704.5 M926.6 720.3L916.2 703.3 M932.6 719.0L927.4 710.5 M959.8 768.8L920.8 777.7 M920.8 777.7L910.1 761.0 M926.8 776.4L916.1 759.6 M959.8 815.7L921.6 827.5 M927.4 825.7L921.5 817.8 M959.8 900.4L993.5 921.9 M988.4 918.6L986.2 928.3 M959.8 924.1L999.8 924.1 M993.7 924.1L997.0 933.4" stroke="#b8107a" stroke-width="1.3" fill="none" stroke-linecap="butt"/>
<path d="M959.8 874.7 l2.1 2.1 l-2.1 2.1 l-2.1 -2.1z" transform="translate(0,-2.1)" stroke="#b8107a" stroke-width="1.2" fill="none"/>
<rect x="1022.3" y="279.1" width="1.7" height="1.8" fill="#e030e0"/>
<rect x="1022.3" y="339.1" width="1.7" height="1.8" fill="#e030e0"/>
<rect x="1022.3" y="399.1" width="1.7" height="1.8" fill="#e030e0"/>
<rect x="1022.3" y="459.1" width="1.7" height="1.8" fill="#e030e0"/>
<rect x="1022.3" y="519.1" width="1.7" height="1.8" fill="#e030e0"/>
<rect x="1022.3" y="579.1" width="1.7" height="1.8" fill="#e030e0"/>
<rect x="1022.3" y="639.1" width="1.7" height="1.8" fill="#e030e0"/>
<rect x="1022.3" y="699.1" width="1.7" height="1.8" fill="#e030e0"/>
<rect x="1022.3" y="760.1" width="1.7" height="1.8" fill="#e030e0"/>
<rect x="1022.3" y="587.2" width="1.7" height="1.6" fill="#4040ff"/>
<rect x="1022.3" y="673.2" width="1.7" height="1.6" fill="#4040ff"/>
<rect x="1022.3" y="762.2" width="1.7" height="1.6" fill="#4040ff"/>
<rect x="1022.3" y="853.2" width="1.7" height="1.6" fill="#4040ff"/>
<text x="7.5" y="23.9" font-size="21.89" textLength="489.60" lengthAdjust="spacingAndGlyphs" fill="#b00064" stroke="#fff" stroke-width="0.54">20260417T0600Z+06 +24+124/Hateruma</text>
<text x="7.5" y="47.8" font-size="21.89" textLength="518.40" lengthAdjust="spacingAndGlyphs" fill="#ff2800" stroke="#fff" stroke-width="0.54">20260417T0600Z+06 +25+125/Miyakojima</text>
<text x="7.5" y="71.8" font-size="21.89" textLength="374.40" lengthAdjust="spacingAndGlyphs" fill="#ff8c00" stroke="#fff" stroke-width="0.54">20260417T0600Z+06 +25+126/</text>
<text x="7.5" y="95.7" font-size="21.89" textLength="475.20" lengthAdjust="spacingAndGlyphs" fill="#f0e800" stroke="#fff" stroke-width="0.54">20260417T0600Z+06 +26+128/Okinawa</text>
<text x="7.5" y="119.6" font-size="21.89" textLength="518.40" lengthAdjust="spacingAndGlyphs" fill="#0040ff" stroke="#fff" stroke-width="0.54">20260417T0600Z+06 +28+129/Okinoerabu</text>
<text x="7.5" y="143.6" font-size="21.89" textLength="446.40" lengthAdjust="spacingAndGlyphs" fill="#2088ff" stroke="#fff" stroke-width="0.54">20260417T0600Z+06 +29+130/Amami</text>
<text x="7.5" y="167.5" font-size="21.89" textLength="518.40" lengthAdjust="spacingAndGlyphs" fill="#99ccff" stroke="#fff" stroke-width="0.00">20260417T1200Z+00 47918_Ishigakijima</text>
</svg></body></html>
